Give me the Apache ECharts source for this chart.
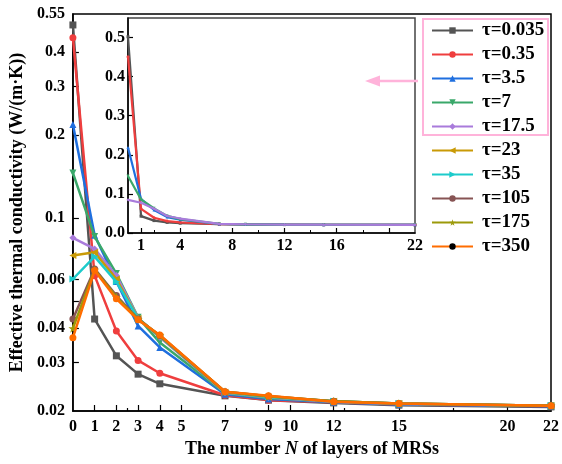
<!DOCTYPE html>
<html>
<head>
<meta charset="utf-8">
<script src="https://cdn.jsdelivr.net/npm/echarts@6/dist/echarts.min.js"></script>
<style>html,body{margin:0;padding:0;background:#fff;}#c{width:562px;height:464px;}</style>
</head>
<body>
<div id="c"></div>
<script>
const xValues = [0, 1, 2, 3, 4, 7, 9, 12, 15, 22];
const seriesNames = ['τ=0.035', 'τ=0.35', 'τ=3.5', 'τ=7', 'τ=17.5', 'τ=23', 'τ=35', 'τ=105', 'τ=175', 'τ=350'];
const k_0035 = [0.502, 0.0431, 0.0317, 0.0272, 0.0251, 0.0227, 0.0219, 0.0214, 0.0210, 0.0207];
const k_035  = [0.451, 0.0619, 0.0390, 0.0305, 0.0274, 0.0228, 0.0219, 0.0215, 0.0211, 0.0208];
const k_35   = [0.2185, 0.0868, 0.0590, 0.0407, 0.0340, 0.0230, 0.0221, 0.0215, 0.0211, 0.0208];
const k_7    = [0.146, 0.0858, 0.0630, 0.0437, 0.0354, 0.0232, 0.0223, 0.0216, 0.0212, 0.0209];
const k_175  = [0.0849, 0.0774, 0.0620, 0.0435, 0.0370, 0.0233, 0.0224, 0.0216, 0.0212, 0.0209];
const k_23   = [0.0733, 0.0752, 0.0602, 0.0433, 0.0372, 0.0234, 0.0225, 0.0217, 0.0213, 0.0209];
const k_35b  = [0.0602, 0.0726, 0.0588, 0.0433, 0.0373, 0.0234, 0.0225, 0.0217, 0.0213, 0.0209];
const k_105  = [0.0431, 0.0655, 0.0524, 0.0431, 0.0375, 0.0235, 0.0226, 0.0217, 0.0213, 0.0209];
const k_175b = [0.0399, 0.0650, 0.0518, 0.0430, 0.0376, 0.0235, 0.0226, 0.0217, 0.0213, 0.0209];
const k_350  = [0.0369, 0.0646, 0.0510, 0.0428, 0.0377, 0.0235, 0.0227, 0.0216, 0.0213, 0.0209];
const allValues = [k_0035, k_035, k_35, k_7, k_175, k_23, k_35b, k_105, k_175b, k_350];

const mainXLabels = [0, 1, 2, 3, 4, 5, 7, 9, 10, 12, 15, 20, 22];
const mainXTicks = [1, 2, 3, 4, 5, 7, 9, 10, 12, 15, 20];
const mainXMinor = [2.5, 7.5, 12.5, 17.5];
const mainYLabels = [0.02, 0.03, 0.04, 0.06, 0.1, 0.2, 0.3, 0.4, 0.55];
const mainYTicks = [0.03, 0.04, 0.05, 0.06, 0.1, 0.2, 0.3, 0.4];
const insetXLabels = [1, 4, 8, 12, 16, 22];
const insetXTicks = [1, 4, 8, 12, 16, 20];
const insetXMinor = [2, 6, 10, 14, 18];
const insetYLabels = [0, 0.1, 0.2, 0.3, 0.4, 0.5];

const colors = ['#545454', '#EF3E3E', '#1F6FDF', '#3AA86A', '#A97BDB', '#C99A06', '#1DCBCB', '#875454', '#9C9A0A', '#FF6D00'];
const STAR = 'path://M50,0 L61,35 L98,35 L68,57 L79,91 L50,70 L21,91 L32,57 L2,35 L39,35 Z';
const symbols = ['rect', 'circle', 'triangle', 'triangle', 'diamond', 'triangle', 'triangle', 'circle', STAR, 'circle'];
const rotates = [0, 0, 0, 180, 0, 90, -90, 0, 0, 0];

const FONT = 'Liberation Serif';
const chart = echarts.init(document.getElementById('c'), null, {renderer: 'canvas'});

const series = [];
seriesNames.forEach((name, i) => {
  series.push({
    name: name, type: 'line', xAxisIndex: 0, yAxisIndex: 0,
    data: xValues.map((x, j) => [x, allValues[i][j]]),
    symbol: symbols[i], symbolRotate: rotates[i], symbolSize: i === 8 ? 9 : 7,
    lineStyle: {color: colors[i], width: 2.5},
    itemStyle: {color: colors[i]},
    z: 3 + i
  });
});
for (let i = 0; i < 5; i++) {
  series.push({
    name: seriesNames[i] + ' ', type: 'line', xAxisIndex: 2, yAxisIndex: 1,
    data: xValues.map((x, j) => [x, allValues[i][j]]),
    symbol: symbols[i], symbolRotate: rotates[i], symbolSize: 3,
    lineStyle: {color: colors[i], width: 2.2},
    itemStyle: {color: colors[i]},
    z: 20 + i
  });
}

const lblStyle = {fontFamily: FONT, fontWeight: 'bold', fontSize: 16, color: '#000'};

const option = {
  animation: false,
  backgroundColor: '#fff',
  grid: [
    {left: 72, right: 9, top: 14, bottom: 53, show: true, borderColor: '#000', borderWidth: 1.5, backgroundColor: 'transparent'},
    {left: 128, right: 147, top: 18, bottom: 231, show: true, borderColor: '#444', borderWidth: 1.5, backgroundColor: '#fff', z: 10}
  ],
  xAxis: [
    {type: 'value', gridIndex: 0, min: 0, max: 22, interval: 1,
     axisLine: {show: true, onZero: false, lineStyle: {color: '#000', width: 1.5}},
     axisTick: {show: true, inside: true, length: 6, lineStyle: {color: '#000', width: 1.2}, customValues: mainXTicks},
     axisLabel: Object.assign({margin: 8, customValues: mainXLabels}, lblStyle),
     splitLine: {show: false},
     name: 'The number {i|N} of layers of MRSs', nameLocation: 'middle', nameGap: 29,
     nameTextStyle: {fontFamily: FONT, fontWeight: 'bold', fontSize: 18, color: '#000', verticalAlign: 'top',
       rich: {i: {fontFamily: FONT, fontWeight: 'bold', fontStyle: 'italic', fontSize: 18, color: '#000'}}}},
    {type: 'value', gridIndex: 0, min: 0, max: 22, interval: 1, position: 'bottom',
     axisLine: {show: false},
     axisTick: {show: true, inside: true, length: 3, lineStyle: {color: '#000', width: 1.2}, customValues: mainXMinor},
     axisLabel: {show: false}, splitLine: {show: false}},
    {type: 'value', gridIndex: 1, min: 0, max: 22, interval: 1, z: 11,
     axisLine: {show: true, onZero: false, lineStyle: {color: '#000', width: 1.5}},
     axisTick: {show: true, inside: true, length: 5, lineStyle: {color: '#000', width: 1.2}, customValues: insetXTicks},
     axisLabel: Object.assign({margin: 5, customValues: insetXLabels}, lblStyle),
     splitLine: {show: false}},
    {type: 'value', gridIndex: 1, min: 0, max: 22, interval: 1, position: 'bottom', z: 11,
     axisLine: {show: false},
     axisTick: {show: true, inside: true, length: 3, lineStyle: {color: '#000', width: 1}, customValues: insetXMinor},
     axisLabel: {show: false}, splitLine: {show: false}}
  ],
  yAxis: [
    {type: 'log', gridIndex: 0, min: 0.02, max: 0.55, logBase: 10,
     axisLine: {show: true, lineStyle: {color: '#000', width: 1.5}},
     axisTick: {show: true, inside: true, length: 6, lineStyle: {color: '#000', width: 1.2}, customValues: mainYTicks},
     axisLabel: Object.assign({margin: 8, customValues: mainYLabels, formatter: v => String(+(+v).toPrecision(3))}, lblStyle),
     splitLine: {show: false}, minorTick: {show: false},
     name: 'Effective thermal conductivity (W/(m·K))', nameLocation: 'middle', nameGap: 35, nameRotate: 90,
     nameTextStyle: {fontFamily: FONT, fontWeight: 'bold', fontSize: 18, color: '#000'}},
    {type: 'value', gridIndex: 1, min: 0, max: 0.55, interval: 0.1, z: 11,
     axisLine: {show: true, lineStyle: {color: '#000', width: 1.5}},
     axisTick: {show: true, inside: true, length: 5, lineStyle: {color: '#000', width: 1.2}, customValues: insetYLabels},
     axisLabel: Object.assign({margin: 3, customValues: insetYLabels, formatter: v => (+v).toFixed(1)}, lblStyle),
     splitLine: {show: false}}
  ],
  legend: {
    orient: 'vertical', left: 431, top: 21, padding: 0, itemWidth: 41, itemHeight: 8, itemGap: 5,
    data: seriesNames.map((n, i) => i === 9 ? {name: n, itemStyle: {color: '#000'}} : {name: n}),
    textStyle: {fontFamily: FONT, fontWeight: 'bold', fontSize: 19, color: '#000', lineHeight: 18, padding: [0, 0, 0, 4]},
    z: 30
  },
  graphic: [
    {type: 'rect', shape: {x: 423, y: 19, width: 125, height: 116}, style: {fill: 'none', stroke: '#FFB3DA', lineWidth: 2}, z: 40},
    {type: 'line', shape: {x1: 418, y1: 81, x2: 374, y2: 81}, style: {stroke: '#FFB3DA', lineWidth: 2.5}, z: 40},
    {type: 'polygon', shape: {points: [[365, 81], [380, 75.5], [380, 86.5]]}, style: {fill: '#FFB3DA'}, z: 40}
  ],
  series: series
};
chart.setOption(option);
</script>
</body>
</html>
